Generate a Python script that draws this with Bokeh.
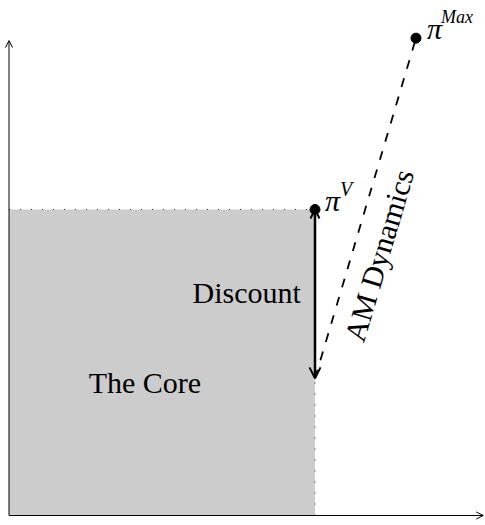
import math
from bokeh.plotting import figure
from bokeh.models import Range1d, Arrow, OpenHead, Label
from bokeh.embed import file_html
from bokeh.resources import INLINE

# ---- data (in chart units) ----
core_width = 10.0          # x of pi^V
core_height = 10.0         # y of pi^V
discount_low = 4.48        # lower end of the discount arrow
pi_max = (13.3, 15.6)      # position of pi^Max
x_axis_end = 15.5
y_axis_end = 15.52
labels = ["The Core", "Discount", "AM Dynamics"]

PX = 30.6  # pixels per unit (equal on both axes)
W, H = 485, 525
OX, OY = 8.5, 10.0   # origin offset from left / bottom (px)

p = figure(width=W, height=H, output_backend="svg", toolbar_location=None,
           x_range=Range1d(-OX / PX, (W - OX) / PX),
           y_range=Range1d(-OY / PX, (H - OY) / PX),
           min_border=0, min_border_left=0, min_border_right=0,
           min_border_top=0, min_border_bottom=0)
p.axis.visible = False
p.grid.visible = False
p.outline_line_color = None
p.background_fill_color = "white"

# the core
p.quad(left=[0], right=[core_width], bottom=[0], top=[core_height],
       fill_color="#cccccc", line_color=None)

# dotted guides
p.line([0, core_width], [core_height, core_height], line_dash="1 10",
       line_color="#333333", line_width=1)
p.line([core_width, core_width], [0, discount_low], line_dash="1 10",
       line_color="#333333", line_width=1)

# AM dynamics dashed line
p.line([core_width, pi_max[0]], [discount_low, pi_max[1]], line_dash="9 10",
       line_color="black", line_width=1.8)

# axes
p.add_layout(Arrow(end=OpenHead(size=7, line_width=1, line_color="black"),
                   x_start=0, y_start=0, x_end=x_axis_end, y_end=0,
                   line_width=1, line_color="black"))
p.add_layout(Arrow(end=OpenHead(size=7, line_width=1, line_color="black"),
                   x_start=0, y_start=0, x_end=0, y_end=y_axis_end,
                   line_width=1, line_color="black"))

# discount arrow
p.add_layout(Arrow(start=OpenHead(size=9, line_width=2, line_color="black"),
                   end=OpenHead(size=11, line_width=2, line_color="black"),
                   x_start=core_width, y_start=core_height,
                   x_end=core_width, y_end=discount_low,
                   line_width=2.5, line_color="black"))

# points
p.scatter([core_width, pi_max[0]], [core_height, pi_max[1]], size=10,
          color="black")

FONT = "Liberation Serif"

# text labels
p.add_layout(Label(x=core_width / 2 - 0.56, y=4.35, text=labels[0],
                   text_font=FONT, text_font_size="30px",
                   text_align="center", text_baseline="middle",
                   text_color="black"))
p.add_layout(Label(x=core_width - 0.46, y=7.29, text=labels[1],
                   text_font=FONT, text_font_size="30px",
                   text_align="right", text_baseline="middle",
                   text_color="black"))

ang = math.atan2(pi_max[1] - discount_low, pi_max[0] - core_width)
p.add_layout(Label(x=12.09, y=8.50, text=labels[2], angle=ang,
                   text_font=FONT, text_font_size="30px",
                   text_align="center", text_baseline="middle",
                   text_color="black"))

# pi labels
p.add_layout(Label(x=core_width, y=core_height, x_offset=10, y_offset=9,
                   text="π", text_font=FONT, text_font_size="30px",
                   text_font_style="italic",
                   text_baseline="alphabetic", text_color="black"))
p.add_layout(Label(x=core_width, y=core_height, x_offset=25, y_offset=21,
                   text="V", text_font=FONT, text_font_size="20px",
                   text_font_style="italic",
                   text_baseline="alphabetic", text_color="black"))
p.add_layout(Label(x=pi_max[0], y=pi_max[1], x_offset=11, y_offset=10,
                   text="π", text_font=FONT, text_font_size="30px",
                   text_font_style="italic",
                   text_baseline="alphabetic", text_color="black"))
p.add_layout(Label(x=pi_max[0], y=pi_max[1], x_offset=25, y_offset=21,
                   text="Max", text_font=FONT, text_font_size="18px",
                   text_font_style="italic",
                   text_baseline="alphabetic", text_color="black"))

open("out.html", "w").write(file_html(p, INLINE))
